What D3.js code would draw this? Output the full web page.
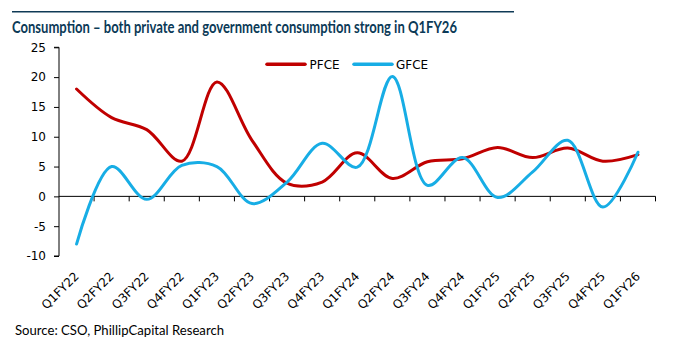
<!DOCTYPE html>
<html><head><meta charset="utf-8">
<script src="https://cdn.jsdelivr.net/npm/d3@7"></script>
<style>body{margin:0;background:#fff}svg{display:block}</style>
</head><body>
<script>
const categories = ["Q1FY22","Q2FY22","Q3FY22","Q4FY22","Q1FY23","Q2FY23","Q3FY23","Q4FY23","Q1FY24","Q2FY24","Q3FY24","Q4FY24","Q1FY25","Q2FY25","Q3FY25","Q4FY25","Q1FY26"];
const pfce = [18.0,13.2,11.2,5.9,19.2,9.4,2.2,2.4,7.3,3.0,5.8,6.3,8.2,6.5,8.1,5.9,7.0];
const gfce = [-8.0,5.0,-0.5,5.2,5.0,-1.2,2.4,8.9,4.9,20.1,1.85,6.5,-0.2,4.1,9.4,-1.8,7.4];
const yTicks = [-10,-5,0,5,10,15,20,25];
const seriesNames = ["PFCE","GFCE"];
const colors = ["#c00000","#17ade5"];

const W=695,H=353;
const svg=d3.select("body").append("svg").attr("width",W).attr("height",H);

// title and rule
svg.append("line").attr("x1",12).attr("x2",514).attr("y1",11.7).attr("y2",11.7).attr("stroke","#0f3a56").attr("stroke-width",1.5);
svg.append("text").attr("x",12).attr("y",32.5).attr("font-family","Lato").attr("font-weight","bold").attr("font-size",17.5)
  .attr("fill","#0b3a57").attr("textLength",445).attr("lengthAdjust","spacingAndGlyphs")
  .text("Consumption – both private and government consumption strong in Q1FY26");

const x=d3.scaleBand().domain(categories).range([59,655.5]);
const y=d3.scaleLinear().domain([-10,25]).range([256,47.3]);

// y axis
const ya=svg.append("g").attr("transform","translate(59,0)")
  .call(d3.axisLeft(y).tickValues(yTicks).tickSize(5).tickPadding(8).tickFormat(d=>String(d)));
ya.select(".domain").attr("stroke","#000").attr("d","M-5,"+y(25)+"H0V"+y(-10)+"H-5");
ya.selectAll(".tick line").attr("stroke","#000");
ya.selectAll("text").attr("font-family","DejaVu Sans").attr("font-size",12).attr("fill","#000");

// x axis at zero
const xa=svg.append("g").attr("transform","translate(0,"+y(0)+")")
  .call(d3.axisBottom(x).tickSize(0).tickFormat(""));
xa.select(".domain").attr("stroke","#000").attr("d","M59,0H655.5");
xa.selectAll(".tick").remove();
const bounds=[...categories.map(c=>x(c)),x(categories[categories.length-1])+x.bandwidth()];
xa.selectAll("line.tk").data(bounds.slice(1)).join("line").attr("class","tk")
  .attr("x1",d=>d).attr("x2",d=>d).attr("y1",0).attr("y2",5).attr("stroke","#000");

// x labels rotated
svg.append("g").selectAll("text").data(categories).join("text")
  .attr("transform",d=>"translate("+(x(d)+x.bandwidth()/2+3)+",277) rotate(-45)")
  .attr("text-anchor","end").attr("font-family","DejaVu Sans").attr("font-size",12).attr("fill","#000")
  .text(d=>d);

// lines
const line=d3.line().x((d,i)=>x(categories[i])+x.bandwidth()/2).y(d=>y(d)).curve(d3.curveCatmullRom.alpha(0.5));
[pfce,gfce].forEach((s,k)=>{
  svg.append("path").datum(s).attr("d",line).attr("fill","none").attr("stroke",colors[k]).attr("stroke-width",3).attr("stroke-linecap","round");
});

// legend
const leg=[{x1:267,x2:305,tx:309.5},{x1:354,x2:392,tx:396}];
seriesNames.forEach((n,k)=>{
  svg.append("line").attr("x1",leg[k].x1).attr("x2",leg[k].x2).attr("y1",64.3).attr("y2",64.3).attr("stroke",colors[k]).attr("stroke-width",3.5).attr("stroke-linecap","round");
  svg.append("text").attr("x",leg[k].tx).attr("y",68.6).attr("font-family","DejaVu Sans").attr("font-size",12).attr("fill","#000").text(n);
});

// source
svg.append("text").attr("x",15).attr("y",334.5).attr("font-family","Lato").attr("font-size",13).attr("fill","#000")
  .attr("textLength",209).attr("lengthAdjust","spacingAndGlyphs").text("Source: CSO, PhillipCapital Research");
</script>
</body></html>
